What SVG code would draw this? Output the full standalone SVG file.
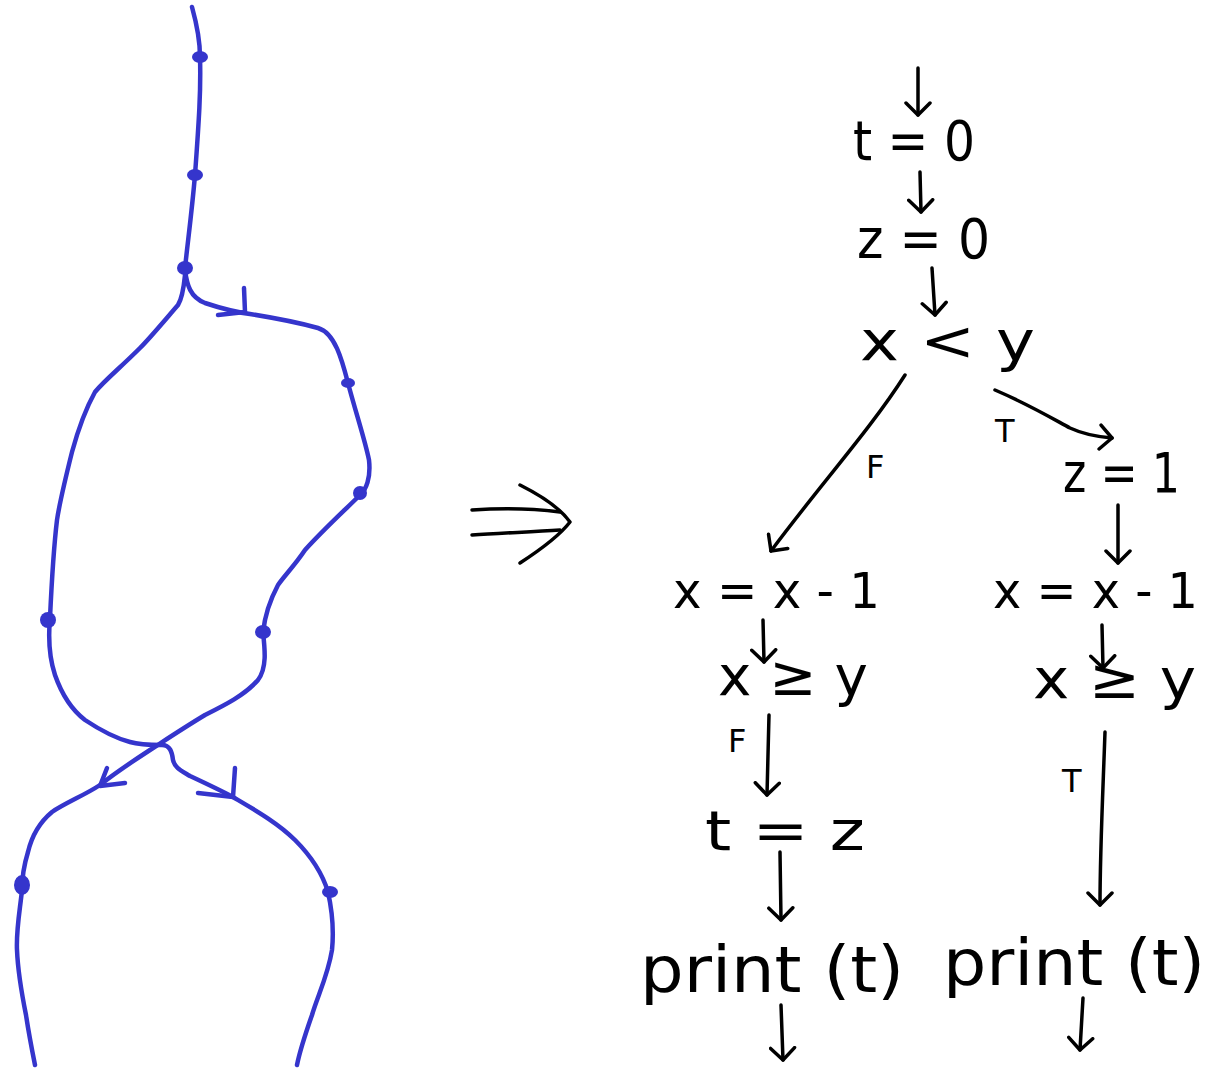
<svg xmlns="http://www.w3.org/2000/svg" width="1220" height="1070" viewBox="0 0 1220 1070">
<style>
.b{fill:none;stroke:#3535cc;stroke-width:4.5;stroke-linecap:round;stroke-linejoin:round}
.d{fill:#3535cc}
.k{fill:none;stroke:#000;stroke-width:3.5;stroke-linecap:round;stroke-linejoin:round}
.t{font-family:"DejaVu Sans",sans-serif;font-size:56px;fill:#000}
.s{font-family:"DejaVu Sans",sans-serif;font-size:50px;fill:#000}
.p{font-family:"DejaVu Sans",sans-serif;font-size:64px;fill:#000}
.l{font-family:"DejaVu Sans",sans-serif;font-size:32px;fill:#000}
</style>
<defs>
<marker id="ah" viewBox="-14 -14 16 28" markerWidth="16" markerHeight="28" refX="0" refY="0" orient="auto" markerUnits="userSpaceOnUse">
<path d="M-12,-12 L0,0 L-12,12" fill="none" stroke="#000" stroke-width="3.5" stroke-linecap="round" stroke-linejoin="round"/>
</marker>
</defs>
<rect width="1220" height="1070" fill="#fff"/>
<g id="blue-graph">
<path class="b" d="M192,7 C197,25 200,45 200,57 C201,90 199,120 195,175 C192,210 188,240 185,268"/>
<path class="b" d="M185,270 C187,285 190,297 205,303 C220,308 235,312 250,314 C275,318 300,323 318,328 C335,333 342,360 348,383 C355,410 365,440 369,460 C371,478 366,490 360,495 C345,510 325,528 305,550 C295,565 285,575 278,585 C270,600 265,615 263,632 C265,650 267,668 258,680 C245,695 225,705 205,715 C185,727 170,737 150,750 C130,763 115,773 100,785 C85,795 65,803 52,812 C40,822 32,835 28,852 C24,865 22,878 22,890 C20,910 16,930 17,950 C18,975 22,995 26,1015 C29,1035 32,1050 35,1065"/>
<path class="b" d="M185,275 C184,285 183,297 178,305 C165,320 150,338 140,348 C120,368 105,380 95,392 C85,410 78,430 72,452 C65,480 60,500 57,520 C54,545 52,575 50,618 C48,640 50,660 55,675 C62,695 72,710 85,720 C100,730 115,738 130,742 C140,745 150,745 162,745 C170,745 172,752 173,760 C175,768 180,770 190,776 C205,783 220,790 233,797 C255,810 278,823 295,840 C310,855 322,872 328,892 C332,910 334,930 332,950 C328,975 318,995 312,1015 C305,1035 300,1050 297,1065"/>
<path class="b" d="M218,315 L245,312 L244,288"/>
<path class="b" d="M107,768 L100,786 L125,783"/>
<path class="b" d="M198,793 L233,797 L235,768"/>
<ellipse class="d" cx="200" cy="57" rx="8" ry="6"/>
<ellipse class="d" cx="195" cy="175" rx="8" ry="6"/>
<ellipse class="d" cx="185" cy="268" rx="8" ry="7"/>
<ellipse class="d" cx="348" cy="383" rx="7" ry="5"/>
<ellipse class="d" cx="360" cy="493" rx="7" ry="7"/>
<ellipse class="d" cx="48" cy="620" rx="8" ry="8"/>
<ellipse class="d" cx="263" cy="632" rx="8" ry="7"/>
<ellipse class="d" cx="22" cy="885" rx="8" ry="10"/>
<ellipse class="d" cx="330" cy="892" rx="8" ry="6"/>
</g>
<g id="implies">
<path class="k" d="M472,510 C500,508 530,508 560,512 M472,535 C500,533 530,532 560,530"/>
<path class="k" d="M520,485 C540,495 560,508 570,522 C560,535 540,550 520,563"/>
</g>
<g id="connectors">
<path class="k" d="M918,68 L918,115" marker-end="url(#ah)"/>
<path class="k" d="M920,172 L921,212" marker-end="url(#ah)"/>
<path class="k" d="M932,268 L935,315" marker-end="url(#ah)"/>
<path class="k" d="M905,375 C870,430 820,485 771,551" marker-end="url(#ah)"/>
<path class="k" d="M995,390 C1030,405 1055,420 1070,428 C1085,435 1100,437 1112,438" marker-end="url(#ah)"/>
<path class="k" d="M1118,505 L1118,563" marker-end="url(#ah)"/>
<path class="k" d="M763,620 L764,662" marker-end="url(#ah)"/>
<path class="k" d="M1102,625 L1103,668" marker-end="url(#ah)"/>
<path class="k" d="M769,715 L767,795" marker-end="url(#ah)"/>
<path class="k" d="M1105,732 C1103,790 1100,850 1100,905" marker-end="url(#ah)"/>
<path class="k" d="M780,852 L781,920" marker-end="url(#ah)"/>
<path class="k" d="M781,1005 L783,1060" marker-end="url(#ah)"/>
<path class="k" d="M1083,998 L1080,1050" marker-end="url(#ah)"/>
</g>
<g id="labels">
<text class="l" x="866" y="478">F</text>
<text class="l" x="995" y="442">T</text>
<text class="l" x="728" y="752">F</text>
<text class="l" x="1062" y="792">T</text>
</g>
<g id="n-t0"><text class="t" x="853" y="160" textLength="122" lengthAdjust="spacingAndGlyphs">t = 0</text></g>
<g id="n-z0"><text class="t" x="857" y="258" textLength="133" lengthAdjust="spacingAndGlyphs">z = 0</text></g>
<g id="n-xlty"><text class="t" x="860" y="360" textLength="175" lengthAdjust="spacingAndGlyphs">x &lt; y</text></g>
<g id="n-z1"><text class="t" x="1063" y="492" textLength="117" lengthAdjust="spacingAndGlyphs">z = 1</text></g>
<g id="n-dec-l"><text class="s" x="673" y="608" textLength="207" lengthAdjust="spacingAndGlyphs">x = x - 1</text></g>
<g id="n-dec-r"><text class="s" x="993" y="608" textLength="205" lengthAdjust="spacingAndGlyphs">x = x - 1</text></g>
<g id="n-ge-l"><text class="t" x="718" y="695" textLength="150" lengthAdjust="spacingAndGlyphs">x ≥ y</text></g>
<g id="n-ge-r"><text class="t" x="1033" y="698" textLength="163" lengthAdjust="spacingAndGlyphs">x ≥ y</text></g>
<g id="n-tz"><text class="t" x="705" y="850" textLength="160" lengthAdjust="spacingAndGlyphs">t = z</text></g>
<g id="n-print-l"><text class="p" x="640" y="992" textLength="264" lengthAdjust="spacingAndGlyphs">print (t)</text></g>
<g id="n-print-r"><text class="p" x="943" y="985" textLength="262" lengthAdjust="spacingAndGlyphs">print (t)</text></g>
</svg>
